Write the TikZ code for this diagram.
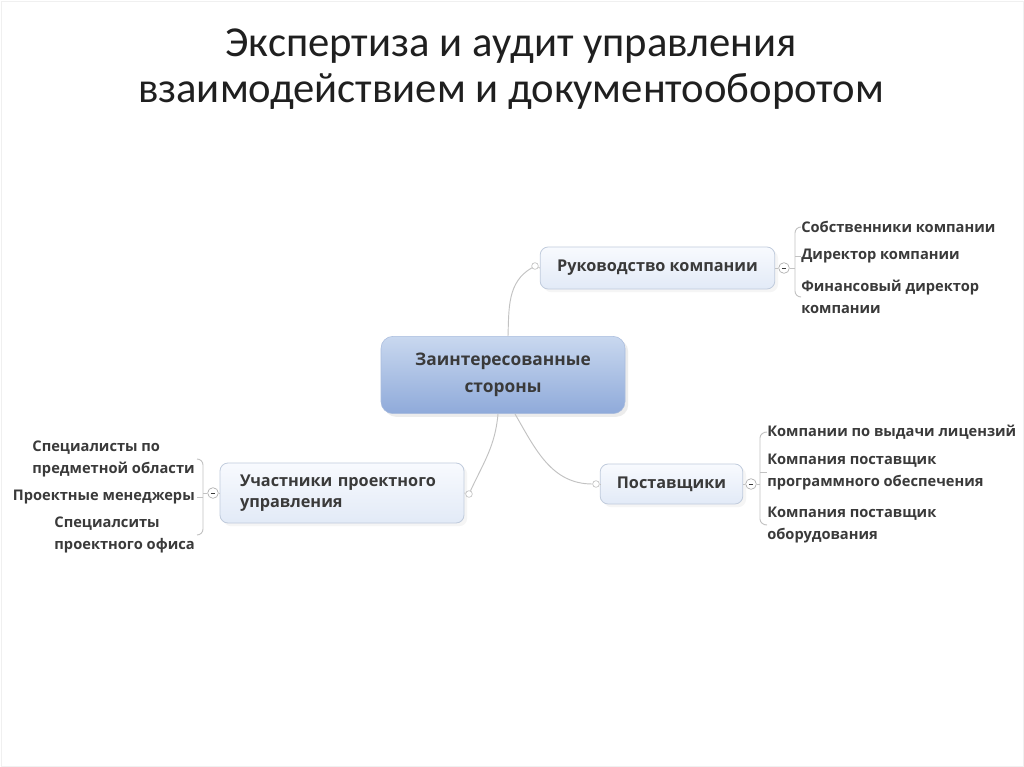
\documentclass[tikz,border=0pt]{standalone}
\usepackage{fontspec}
\setmainfont{Carlito}
\newfontfamily\mapfont{Open Sans}
\usetikzlibrary{calc, positioning, shadows}

\definecolor{maptext}{HTML}{3A3A3A}
\definecolor{mapline}{HTML}{C2C2C2}
\definecolor{roottop}{HTML}{C9D8EF}
\definecolor{rootbottom}{HTML}{8FAADA}
\definecolor{roottedge}{HTML}{A9BCDD}
\definecolor{subtop}{HTML}{F8FAFE}
\definecolor{subbottom}{HTML}{E2EAF7}
\definecolor{subedge}{HTML}{C0CBDC}

\tikzset{
	maptxt/.style = {font=\mapfont\bfseries\fontsize{12.2pt}{16pt}\selectfont, text=maptext},
	rootbox/.style = {maptxt, font=\mapfont\bfseries\fontsize{13pt}{20pt}\selectfont, draw=roottedge,
		top color=roottop, bottom color=rootbottom, rounded corners=9pt,
		minimum width=183pt, minimum height=58pt, align=center, drop shadow={opacity=0.15}},
	subbox/.style = {maptxt, draw=subedge, top color=subtop, bottom color=subbottom, rounded corners=6pt,
		line width=0.6pt, drop shadow={opacity=0.08}},
	leaf/.style = {maptxt, font=\mapfont\bfseries\fontsize{11pt}{17pt}\selectfont, inner sep=0pt},
	knob/.style = {circle, draw=mapline, fill=white, inner sep=0pt, minimum size=5pt, line width=0.5pt},
	fold/.style = {circle, draw=mapline!90!black, fill=white, inner sep=0pt, minimum size=8pt, line width=0.5pt,
		path picture={\draw[maptext, line width=0.6pt] ($(path picture bounding box.center)+(-2.2,0)$)
			-- ($(path picture bounding box.center)+(2.2,0)$);}},
	link/.style = {draw=mapline, line width=0.7pt},
}

\begin{document}
\begin{tikzpicture}[x=0.75pt, y=-0.75pt]
	% slide
	\fill[white] (0,0) rectangle (1024,767);
	\draw[black!6, line width=0.6pt] (1,1) rectangle (1023,766);
	\useasboundingbox (0,0) rectangle (1024,767);

	% title
	\node[font=\fontsize{32pt}{34pt}\selectfont, text=black!88, align=center] (title) at (511,69)
		{Экспертиза и аудит управления\\взаимодействием и документооборотом};

	% central topic
	\node[rootbox] (stake) at (503,375) {Заинтересованные\\стороны};

	% branches
	\node[subbox, minimum width=176pt, minimum height=31.5pt] (board) at (657.5,268) {Руководство компании};
	\node[subbox, minimum width=183pt, minimum height=45pt, align=left, text width=153pt] (team) at (342,493)
		{Участники проектного\\управления};
	\node[subbox, minimum width=107pt, minimum height=30pt] (vendors) at (671.5,484) {Поставщики};

	% knobs and fold buttons
	\node[knob] (board in) at (535,266) {};
	\node[fold] (board fold) at (784,268) {};
	\node[knob] (team in) at (469,494) {};
	\node[fold] (team fold) at (213,493) {};
	\node[knob] (vendors in) at (596,484) {};
	\node[fold] (vendors fold) at (751,484) {};

	% leaves: board
	\node[leaf, anchor=west] (owners) at (801,227) {Собственники компании};
	\node[leaf, anchor=west] (ceo) at (801,256) {Директор компании};
	\node[leaf, anchor=west, align=left] (cfo) at (801,297) {Финансовый директор\\компании};

	% leaves: team
	\node[leaf, anchor=east, align=left] (experts) at (195,459) {Специалисты по\\предметной области};
	\node[leaf, anchor=east] (managers) at (195,497) {Проектные менеджеры};
	\node[leaf, anchor=east, align=left] (pmo) at (195,535) {Специалситы\\проектного офиса};

	% leaves: vendors
	\node[leaf, anchor=west] (licence) at (767,432) {Компании по выдачи лицензий};
	\node[leaf, anchor=west, align=left] (software) at (767,472) {Компания поставщик\\программного обеспечения};
	\node[leaf, anchor=west, align=left] (hardware) at (767,525) {Компания поставщик\\оборудования};

	% main links
	\draw[link] ($(stake.north)+(5,0)$) to[out=88, in=210] (board in);
	\draw[link] ($(stake.south)+(-5,0)$) to[out=-95, in=65] (team in);
	\draw[link] ($(stake.south)+(12,0)$) to[out=-60, in=180] (vendors in);
	\draw[link] (board in) -- (board.west);
	\draw[link] (team in) -- (team.east);
	\draw[link] (vendors in) -- (vendors.west);
	\draw[link] (board.east) -- (board fold);
	\draw[link] (team.west) -- (team fold);
	\draw[link] (vendors.east) -- (vendors fold);

	% brackets
	\coordinate (board rail) at (795,268);
	\draw[link] (board fold) -- (board rail);
	\draw[link] (owners.west) to[out=180, in=90] ($(board rail|-owners)+(0,6)$) -- ($(board rail|-cfo)+(0,-6)$)
		to[out=-90, in=180] (cfo.west);
	\draw[link] ($(board rail|-ceo)$) -- (ceo.west);

	\coordinate (team rail) at (203,493);
	\draw[link] (team fold) -- (team rail);
	\draw[link] ($(experts.east)+(2,0)$) to[out=0, in=90] ($(team rail|-experts)+(0,6)$) -- ($(team rail|-pmo)+(0,-6)$)
		to[out=-90, in=0] ($(pmo.east)+(2,0)$);
	\draw[link] (team rail|-managers) -- ($(managers.east)+(2,0)$);

	\coordinate (vendors rail) at (760,484);
	\draw[link] (vendors fold) -- (vendors rail);
	\draw[link] (licence.west) to[out=180, in=90] ($(vendors rail|-licence)+(0,6)$) -- ($(vendors rail|-hardware)+(0,-6)$)
		to[out=-90, in=180] (hardware.west);
	\draw[link] (vendors rail|-software) -- (software.west);
\end{tikzpicture}
\end{document}
